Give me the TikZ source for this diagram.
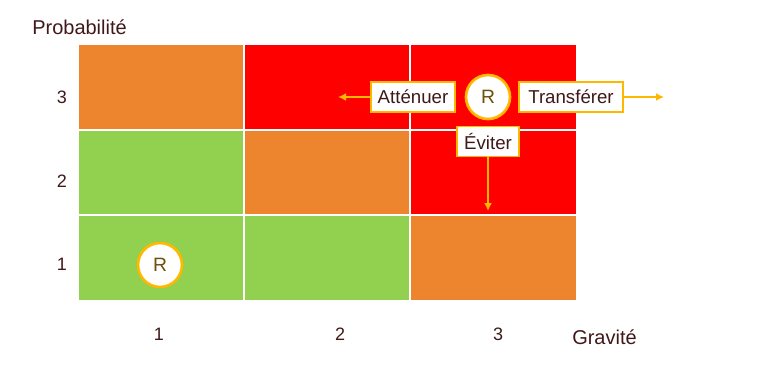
\documentclass[tikz,border=0pt]{standalone}
\usepackage{fontspec}
\setmainfont{Liberation Sans}
\usetikzlibrary{arrows.meta}
\definecolor{corange}{RGB}{237,132,46}
\definecolor{cred}{RGB}{255,0,0}
\definecolor{cgreen}{RGB}{146,208,80}
\definecolor{ctext}{RGB}{64,24,24}
\definecolor{cR}{RGB}{110,80,10}
\definecolor{cline}{RGB}{255,184,0}
\begin{document}
\begin{tikzpicture}[x=0.75pt,y=-0.75pt,
  lab/.style={text=ctext,font=\fontsize{13.5pt}{15pt}\selectfont,inner sep=0pt},
  axlab/.style={text=ctext,font=\fontsize{15pt}{17pt}\selectfont,inner sep=0pt},
  actbox/.style={draw=cline,line width=0.8pt,fill=white,text=ctext,font=\fontsize{14pt}{16pt}\selectfont,minimum height=30*0.75pt,inner sep=0pt},
  rcirc/.style={circle,draw=cline,line width=2pt,fill=white,text=cR,minimum size=44*0.75pt,inner sep=0pt,font=\fontsize{14.5pt}{16pt}\selectfont},
  arr/.style={draw=cline,line width=1.2pt,-{Latex[length=6pt,width=6pt]}}]
\useasboundingbox (0,0) rectangle (781,367);
% grid
\fill[corange] (79,45) rectangle (244,130);
\fill[cred] (244,45) rectangle (576,130);
\fill[cgreen] (79,130) rectangle (244,215);
\fill[corange] (244,130) rectangle (410,215);
\fill[cred] (410,130) rectangle (576,215);
\fill[cgreen] (79,215) rectangle (410,300);
\fill[corange] (410,215) rectangle (576,300);
\draw[white,line width=1.2pt] (244,45) -- (244,300) (410,45) -- (410,300) (79,130) -- (576,130) (79,215) -- (576,215);
% axis labels
\node[axlab,anchor=west] (prob) at (32,27) {Probabilité};
\node[axlab,anchor=west] (grav) at (572,337) {Gravité};
\node[lab] (r3) at (62,97) {3};
\node[lab] (r2) at (62,181) {2};
\node[lab] (r1) at (62,264) {1};
\node[lab] (c1) at (159,334) {1};
\node[lab] (c2) at (340,334) {2};
\node[lab] (c3) at (498,334) {3};
% R circles
\node[rcirc] (rlow) at (160,265) {R};
\node[rcirc] (rhigh) at (488,97) {R};
% action boxes
\node[actbox,minimum width=84*0.75pt] (att) at (413,97) {Atténuer};
\node[actbox,minimum width=104*0.75pt] (tra) at (571,97) {Transférer};
\node[actbox,minimum width=62*0.75pt] (evi) at (488,141.5) {Éviter};
\coordinate (attend) at (338,97);
\coordinate (traend) at (664,97);
\coordinate (eviend) at (488,211);
\draw[arr] (att.west) -- (attend);
\draw[arr] (tra.east) -- (traend);
\draw[arr] (evi.south) -- (eviend);
\end{tikzpicture}
\end{document}
